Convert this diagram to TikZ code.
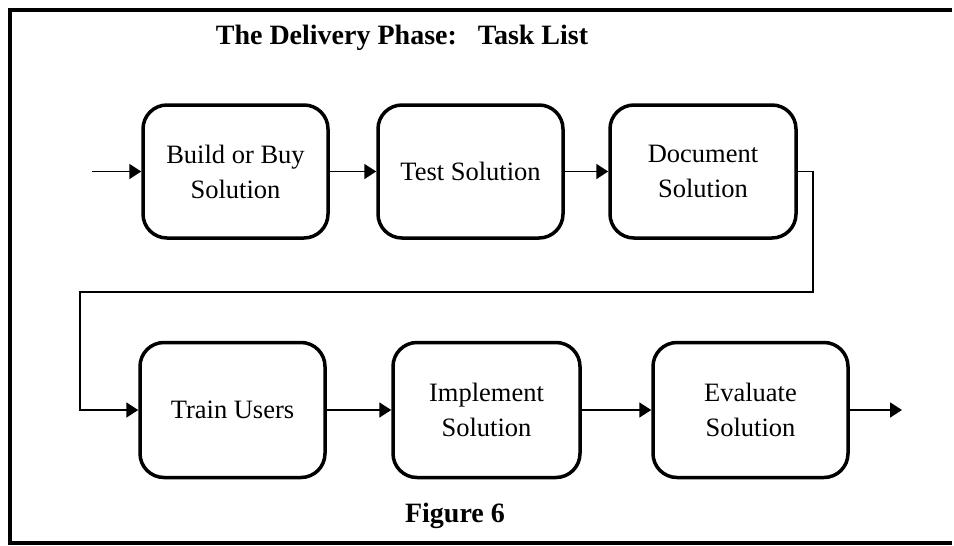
\documentclass[tikz,border=0pt]{standalone}
\usepackage{fontspec}
\setmainfont{Liberation Serif}
\usetikzlibrary{arrows.meta}
\tikzset{
  taskbox/.style={draw, line width=3.5pt, rounded corners=24pt, minimum width=185pt, minimum height=133pt, align=center, inner sep=0pt, font=\fontsize{26.5}{35}\selectfont},
  conn/.style={line width=1.8pt, -{Triangle[length=12pt,width=15pt]}},
  frameline/.style={line width=3.5pt}
}
\begin{document}
\begin{tikzpicture}[x=1pt,y=-1pt]
\useasboundingbox (0,0) rectangle (954,546);
\fill[white] (0,0) rectangle (954,546);
\draw[frameline] (952,10) -- (10,10) -- (10,543) -- (952,543);
\node (title) at (402,38) {\fontsize{28}{32}\selectfont\bfseries The Delivery Phase:\ \ \ Task List};
\node (fig) at (455,516) {\fontsize{28}{32}\selectfont\bfseries Figure 6};
\node[taskbox] (b1) at (235.5,171.5) {Build or Buy\\Solution};
\node[taskbox] (b2) at (470.5,171.5) {Test Solution};
\node[taskbox, minimum width=186pt] (b3) at (703,171.5) {Document\\Solution};
\node[taskbox, minimum height=135pt] (b4) at (232.5,410) {Train Users};
\node[taskbox, minimum width=187pt, minimum height=135pt] (b5) at (486.5,410) {Implement\\Solution};
\node[taskbox, minimum width=195pt, minimum height=135pt] (b6) at (750.5,410) {Evaluate\\Solution};
\coordinate (start) at (92,171.5);
\coordinate (c1) at (813,292);
\coordinate (c2) at (80,292);
\coordinate (finish) at (902,410);
\draw[conn] (start) -- (b1.west);
\draw[conn] (b1) -- (b2);
\draw[conn] (b2) -- (b3);
\draw[conn] (b3.east) -| (c1) -- (c2) |- (b4.west);
\draw[conn] (b4) -- (b5);
\draw[conn] (b5) -- (b6);
\draw[conn] (b6.east) -- (finish);
\end{tikzpicture}
\end{document}
